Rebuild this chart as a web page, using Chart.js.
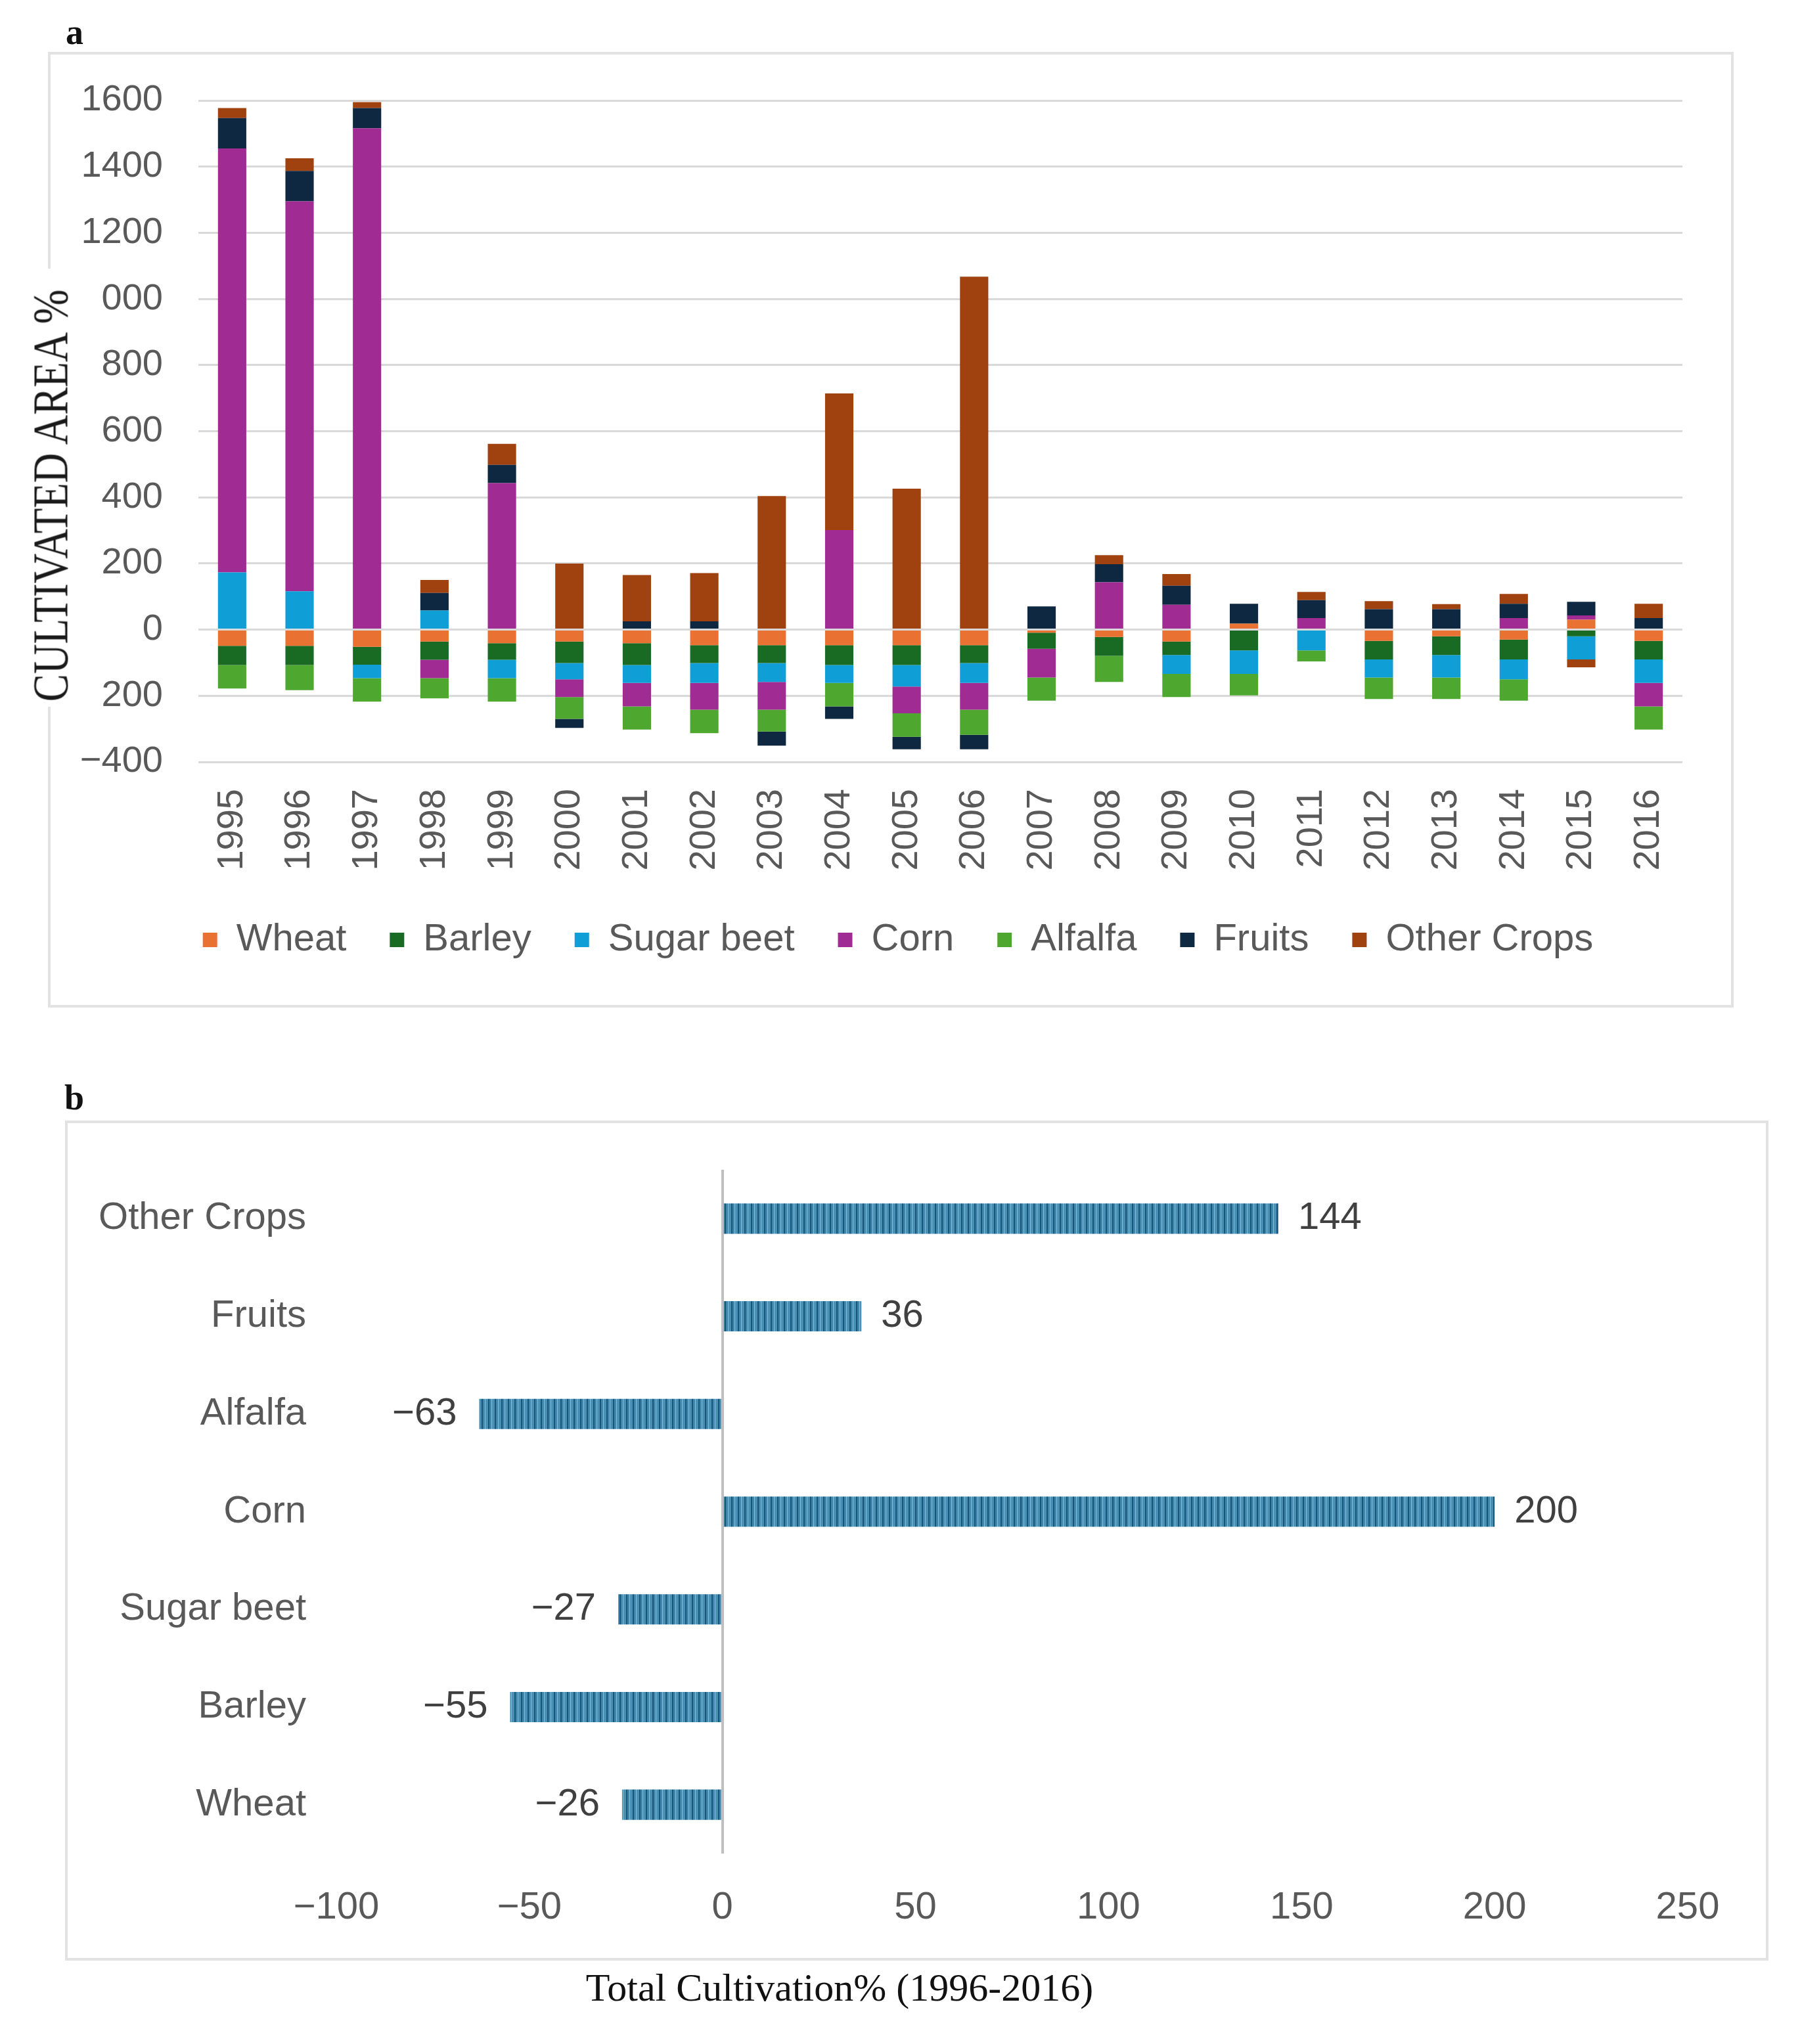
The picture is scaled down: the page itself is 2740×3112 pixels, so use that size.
<!DOCTYPE html>
<html>
<head>
<meta charset="utf-8">
<script src="https://cdn.jsdelivr.net/npm/chart.js@4.4.1/dist/chart.umd.min.js"></script>
<style>
  html, body { margin: 0; padding: 0; background: #fff; }
  body { width: 2740px; height: 3112px; position: relative; overflow: hidden; font-family: "Liberation Sans", Arial, sans-serif; }
  .panel { position: absolute; box-sizing: border-box; border: 4px solid #e2e2e2; }
  #panelA { left: 73px; top: 79px; width: 2566px; height: 1455px; }
  #panelB { left: 99px; top: 1706px; width: 2593px; height: 1279px; }
  canvas { position: absolute; }
  #chartA { left: 75px; top: 83px; }
  #chartB { left: 103px; top: 1711px; }
  .tag { position: absolute; font-family: "Liberation Serif", "Times New Roman", serif; font-weight: bold; font-size: 54px; color: #111; }
  #yTitle {
    position: absolute; left: -257px; top: 666px; width: 667px; height: 152px;
    background: #fff; transform: rotate(-90deg); line-height: 152px; overflow: visible;
    font-family: "Liberation Serif", "Times New Roman", serif; font-size: 76px; color: #1a1a1a; white-space: nowrap;
  }
  #yTitle span { position: absolute; top: 0; left: calc(50% - 13px); transform: translateX(-50%) scaleX(0.83); }
  #xTitleB {
    position: absolute; left: 0; width: 2556px; top: 2992px; text-align: center;
    font-family: "Liberation Serif", "Times New Roman", serif; font-size: 60px; color: #111; white-space: nowrap;
  }
</style>
</head>
<body>
<div class="panel" id="panelA"></div>
<div class="panel" id="panelB"></div>
<canvas id="chartA" width="2562" height="1449"></canvas>
<canvas id="chartB" width="2587" height="1270"></canvas>
<div class="tag" style="left:100px; top:18px;">a</div>
<div class="tag" style="left:98px; top:1640px;">b</div>
<div id="yTitle"><span>CULTIVATED AREA %</span></div>
<div id="xTitleB">Total Cultivation% (1996-2016)</div>

<script>
// Panel a: yearly change of cultivated area per crop (%)
const years = ['1995', '1996', '1997', '1998', '1999', '2000', '2001', '2002', '2003', '2004', '2005',
               '2006', '2007', '2008', '2009', '2010', '2011', '2012', '2013', '2014', '2015', '2016'];
const wheat      = [-49, -49, -52, -36, -41, -36, -41, -47, -47, -47, -47, -47, -9, -22, -36, 18, 0, -34, -20, -30, 30, -34];
const barley     = [-58, -58, -54, -55, -50, -65, -66, -54, -54, -60, -60, -54, -49, -57, -41, -63, 0, -56, -57, -60, -20, -56];
const sugarBeet  = [173, 116, -41, 58, -56, -49, -54, -60, -57, -54, -65, -60, 0, 0, -57, -71, -63, -55, -68, -60, -70, -71];
const corn       = [1282, 1179, 1516, -56, 443, -54, -71, -81, -84, 301, -81, -81, -87, 143, 75, 0, 35, 0, 0, 35, 13, -71];
const alfalfa    = [-71, -76, -71, -61, -71, -66, -70, -71, -66, -71, -71, -76, -70, -79, -70, -65, -33, -65, -65, -65, 0, -70];
const fruits     = [92, 92, 61, 53, 55, -27, 25, 25, -43, -38, -38, -44, 70, 55, 58, 60, 54, 62, 62, 43, 41, 35];
const otherCrops = [30, 38, 18, 39, 64, 200, 140, 146, 404, 413, 426, 1067, 0, 27, 35, 0, 25, 24, 15, 30, -24, 43];
const areaTicks  = [-400, -200, 0, 200, 400, 600, 800, 1000, 1200, 1400, 1600];

// Panel b: total change 1996-2016
const crops = ['Other Crops', 'Fruits', 'Alfalfa', 'Corn', 'Sugar beet', 'Barley', 'Wheat'];
const totalCultivation = [144, 36, -63, 200, -27, -55, -26];
const totalTicks = [-100, -50, 0, 50, 100, 150, 200, 250];

const FONT = '"Liberation Sans", Arial, sans-serif';
const GREY = '#595959';

// negative numbers use a real minus sign like the original
const fmt = v => (v < 0 ? '\u2212' + Math.abs(v) : String(v));

// striped fill for the horizontal bars
function makeStripes() {
    const c = document.createElement('canvas');
    c.width = 10;
    c.height = 4;
    const g = c.getContext('2d');
    const cols = ['#17557a', '#17557a', '#3f86ab', '#3f86ab', '#3f86ab', '#80c0e1', '#4a90b5', '#4a90b5', '#4a90b5', '#4a90b5'];
    cols.forEach((col, i) => {
        g.fillStyle = col;
        g.fillRect(i, 0, 1, 4);
    });
    return g.createPattern(c, 'repeat');
}

const valueLabels = {
    id: 'valueLabels',
    afterDatasetsDraw(chart) {
        const ctx = chart.ctx;
        const meta = chart.getDatasetMeta(0);
        const data = chart.data.datasets[0].data;
        ctx.save();
        ctx.font = '58px ' + FONT;
        ctx.fillStyle = '#404040';
        ctx.textBaseline = 'middle';
        meta.data.forEach((bar, i) => {
            const v = data[i];
            if (v >= 0) {
                ctx.textAlign = 'left';
                ctx.fillText(fmt(v), bar.x + 30, bar.y);
            } else {
                ctx.textAlign = 'right';
                ctx.fillText(fmt(v), bar.x - 34, bar.y);
            }
        });
        ctx.restore();
    }
};

new Chart(document.getElementById('chartA'), {
    type: 'bar',
    data: {
        labels: years,
        datasets: [
            { label: 'Wheat', data: wheat, backgroundColor: '#E97132' },
            { label: 'Barley', data: barley, backgroundColor: '#196B24' },
            { label: 'Sugar beet', data: sugarBeet, backgroundColor: '#0F9ED5' },
            { label: 'Corn', data: corn, backgroundColor: '#A02B93' },
            { label: 'Alfalfa', data: alfalfa, backgroundColor: '#4EA72E' },
            { label: 'Fruits', data: fruits, backgroundColor: '#0E2841' },
            { label: 'Other Crops', data: otherCrops, backgroundColor: '#A0420F' }
        ]
    },
    options: {
        responsive: false,
        animation: false,
        devicePixelRatio: 1,
        layout: { padding: { top: 70, right: 0, bottom: 62, left: 22 } },
        datasets: { bar: { barPercentage: 0.42, categoryPercentage: 1, borderWidth: 0 } },
        plugins: {
            legend: {
                position: 'bottom',
                labels: { font: { size: 58, family: FONT }, color: GREY, boxWidth: 22, boxHeight: 22, padding: 66 }
            },
            tooltip: { enabled: false }
        },
        scales: {
            x: {
                stacked: true,
                grid: { display: false, drawTicks: false },
                border: { display: false },
                ticks: { font: { size: 56, family: FONT }, color: GREY, minRotation: 90, maxRotation: 90, autoSkip: false, padding: 41 },
                afterFit: s => { s.height = 176; }
            },
            y: {
                stacked: true,
                min: areaTicks[0],
                max: areaTicks[areaTicks.length - 1],
                ticks: { stepSize: 200, callback: fmt, font: { size: 56, family: FONT }, color: GREY, padding: 54 },
                grid: { color: '#d9d9d9', lineWidth: 3, drawTicks: false },
                border: { display: false },
                afterFit: s => { s.width = 205; s.paddingTop = 0; s.paddingBottom = 0; }
            },
            yR: {
                position: 'right',
                grid: { display: false, drawTicks: false },
                border: { display: false },
                ticks: { display: false },
                afterFit: s => { s.width = 76; s.paddingTop = 0; s.paddingBottom = 0; }
            }
        }
    }
});

new Chart(document.getElementById('chartB'), {
    type: 'bar',
    data: {
        labels: crops,
        datasets: [{ data: totalCultivation, backgroundColor: makeStripes(), borderWidth: 0 }]
    },
    options: {
        indexAxis: 'y',
        responsive: false,
        animation: false,
        devicePixelRatio: 1,
        layout: { padding: { top: 70, right: 121, bottom: 0, left: 0 } },
        datasets: { bar: { barPercentage: 0.31, categoryPercentage: 1 } },
        plugins: { legend: { display: false }, tooltip: { enabled: false } },
        scales: {
            x: {
                min: totalTicks[0],
                max: totalTicks[totalTicks.length - 1],
                ticks: { stepSize: 50, callback: fmt, font: { size: 58, family: FONT }, color: GREY, padding: 48 },
                grid: {
                    color: c => (c.tick && c.tick.value === 0 ? '#bfbfbf' : 'rgba(0,0,0,0)'),
                    lineWidth: 4,
                    drawTicks: false
                },
                border: { display: false },
                afterFit: s => { s.height = 159; }
            },
            y: {
                grid: { display: false, drawTicks: false },
                border: { display: false },
                ticks: { font: { size: 58, family: FONT }, color: GREY, padding: 46 },
                afterFit: s => { s.width = 409; s.paddingTop = 0; s.paddingBottom = 0; }
            }
        }
    },
    plugins: [valueLabels]
});
</script>
</body>
</html>
